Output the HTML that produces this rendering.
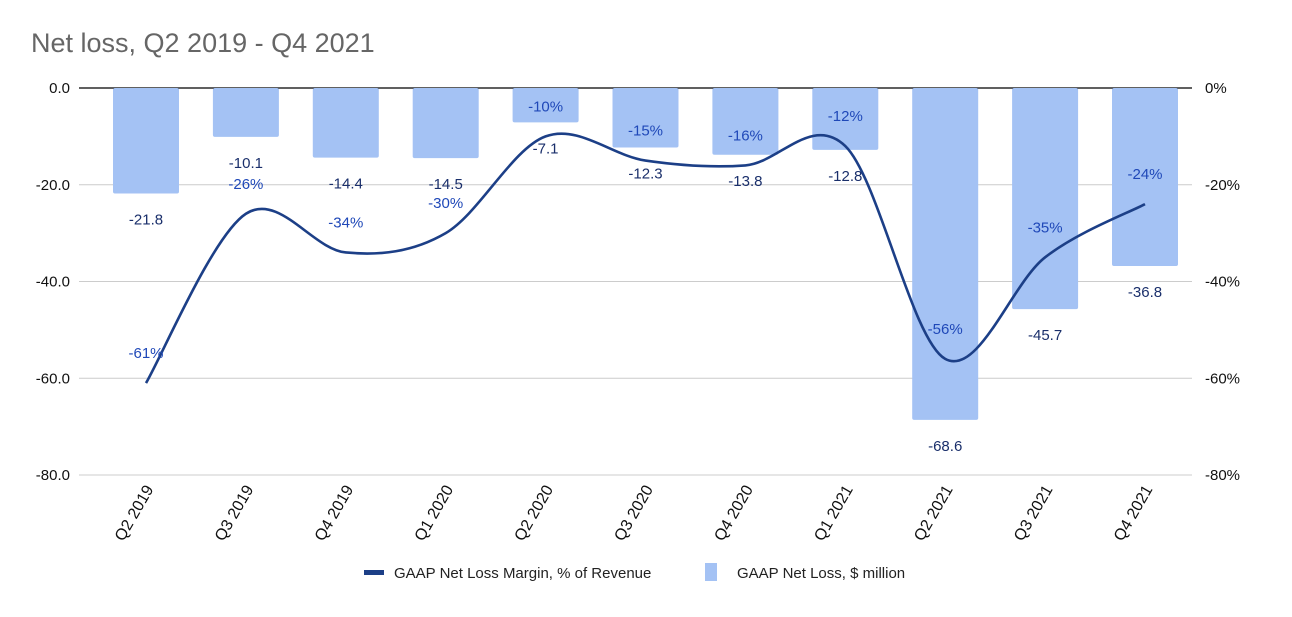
<!DOCTYPE html>
<html><head><meta charset="utf-8"><style>
body{margin:0;background:#fff;font-family:"Liberation Sans",sans-serif}
</style></head><body>
<svg width="1292" height="612" xmlns="http://www.w3.org/2000/svg" font-family="Liberation Sans, sans-serif">
<text x="31" y="52" font-size="27" fill="#666">Net loss, Q2 2019 - Q4 2021</text>
<g id="grid"></g><g id="bars"></g><g id="line"></g><g id="labels"></g><g id="axes"></g>
<g>
<rect x="364" y="570" width="20" height="5" fill="#1c3f87"/>
<text x="394" y="578" font-size="15" fill="#222">GAAP Net Loss Margin, % of Revenue</text>
<rect x="705" y="563" width="12" height="18" fill="#a4c2f4"/>
<text x="737" y="578" font-size="15" fill="#222">GAAP Net Loss, $ million</text>
</g>
</svg>
<script>
const categories=["Q2 2019","Q3 2019","Q4 2019","Q1 2020","Q2 2020","Q3 2020","Q4 2020","Q1 2021","Q2 2021","Q3 2021","Q4 2021"];
const netLoss=[-21.8,-10.1,-14.4,-14.5,-7.1,-12.3,-13.8,-12.8,-68.6,-45.7,-36.8];
const margin=[-61,-26,-34,-30,-10,-15,-16,-12,-56,-35,-24];
const leftTicks=["0.0","-20.0","-40.0","-60.0","-80.0"];
const rightTicks=["0%","-20%","-40%","-60%","-80%"];
const tickVals=[0,-20,-40,-60,-80];
const NS="http://www.w3.org/2000/svg";
const y=v=>88+(-v)*(387/80);
const x=i=>146+i*99.9;
function mk(t,a,p){const e=document.createElementNS(NS,t);for(const k in a)e.setAttribute(k,a[k]);document.getElementById(p).appendChild(e);return e;}
tickVals.forEach((v,i)=>{
 const g=mk('line',{x1:79,x2:1192,y1:y(v),y2:y(v),stroke:v===0?'#000':'#ccc','stroke-width':v===0?1.3:1},'grid');
 
 
 const l=mk('text',{x:70,y:y(v)+5,'font-size':15,'text-anchor':'end',fill:'#111'},'axes');l.textContent=leftTicks[i];
 
 
 const r=mk('text',{x:1205,y:y(v)+5,'font-size':15,fill:'#111'},'axes');r.textContent=rightTicks[i];
 
 
});
categories.forEach((c,i)=>{
 const b=mk('rect',{x:x(i)-33,y:y(0),width:66,height:y(netLoss[i])-y(0),fill:'#a4c2f4',rx:2},'bars');
 
 
 const t=mk('text',{x:x(i),y:y(netLoss[i])+31,'font-size':15,'text-anchor':'middle',fill:'#1a2f6b'},'labels');t.textContent=netLoss[i].toFixed(1);
 
 
 const p=mk('text',{x:x(i),y:y(margin[i])-25,'font-size':15,'text-anchor':'middle',fill:'#1f48b8'},'labels');p.textContent=margin[i]+'%';
 
 
 const a=mk('text',{'font-size':16,'text-anchor':'end',fill:'#111',transform:`translate(${x(i)+8},489) rotate(-60)`},'axes');a.textContent=c;
 
 
});
const pts=margin.map((m,i)=>[x(i),y(m)]);
let d=`M${pts[0][0]},${pts[0][1]}`;
for(let i=0;i<pts.length-1;i++){
 const p0=pts[Math.max(0,i-1)],p1=pts[i],p2=pts[i+1],p3=pts[Math.min(pts.length-1,i+2)];
 const c1=[p1[0]+(p2[0]-p0[0])/6,p1[1]+(p2[1]-p0[1])/6];
 const c2=[p2[0]-(p3[0]-p1[0])/6,p2[1]-(p3[1]-p1[1])/6];
 d+=` C${c1[0]},${c1[1]} ${c2[0]},${c2[1]} ${p2[0]},${p2[1]}`;
}
const ln=mk('path',{d:d,fill:'none',stroke:'#1c3f87','stroke-width':2.6},'line');


</script>
</body></html>
